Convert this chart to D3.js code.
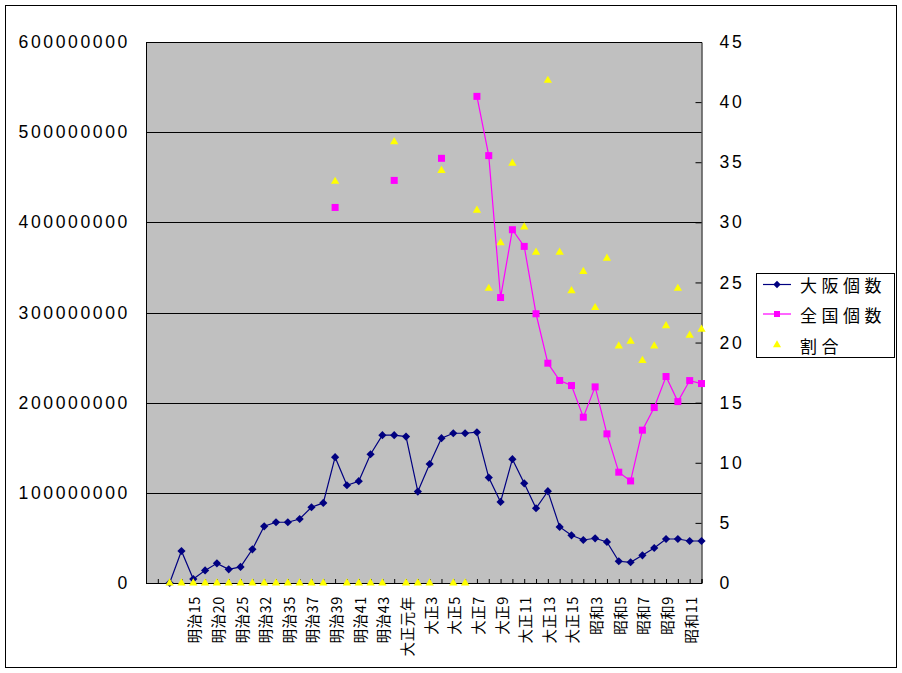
<!DOCTYPE html>
<html><head><meta charset="utf-8">
<script src="https://cdn.jsdelivr.net/npm/d3@7"></script>
<style>body{margin:0;background:#fff}svg{display:block}</style>
</head><body><svg id="c" width="902" height="673"></svg>
<script>
const categories = ["明治10","明治12","明治13","明治14","明治15","明治18","明治20","明治23","明治25","明治30","明治32","明治33","明治35","明治36","明治37","明治38","明治39","明治40","明治41","明治42","明治43","明治44","大正元年","大正2","大正3","大正4","大正5","大正6","大正7","大正8","大正9","大正10","大正11","大正12","大正13","大正14","大正15","昭和2","昭和3","昭和4","昭和5","昭和6","昭和7","昭和8","昭和9","昭和10","昭和11","昭和12"];
const tickLabels = ["明治15","明治20","明治25","明治32","明治35","明治37","明治39","明治41","明治43","大正元年","大正3","大正5","大正7","大正9","大正11","大正13","大正15","昭和3","昭和5","昭和7","昭和9","昭和11"];
const osaka = [null,null,0,35500000,4400000,14000000,21800000,15200000,17800000,37400000,62900000,67400000,67400000,71000000,84000000,88800000,139500000,108400000,112900000,142800000,163900000,163900000,162400000,101400000,132000000,160600000,166100000,166100000,167200000,116900000,89900000,137300000,110600000,82900000,101800000,62200000,52900000,47700000,49600000,45500000,24100000,23000000,30700000,38800000,48800000,48800000,46600000,46600000];
const zenkoku = [null,null,null,null,null,null,null,null,null,null,null,null,null,null,null,null,416500000,null,null,null,null,446500000,null,null,null,471000000,null,null,539700000,474000000,316600000,391800000,373300000,298600000,243800000,224600000,219000000,183900000,217500000,165400000,122900000,113200000,169500000,194600000,229000000,201200000,224500000,221200000];
const ratio = [null,null,0,0,0,0,0,0,0,0,0,0,0,0,0,0,33.4,0,0,0,0,36.7,0,0,0,34.3,0,0,31.0,24.5,28.3,34.9,29.6,27.5,41.8,27.5,24.3,25.9,22.9,27.0,19.7,20.1,18.5,19.7,21.4,24.5,20.6,21.1];
const leftTicks = [0,100000000,200000000,300000000,400000000,500000000,600000000];
const rightTicks = [0,5,10,15,20,25,30,35,40,45];
const seriesNames = ["大阪個数","全国個数","割合"];

const svg = d3.select("#c");
const L = 146, R = 701.5, T = 42, B = 583;
const x = d3.scalePoint().domain(categories).range([L, R]).padding(0);
const yL = d3.scaleLinear().domain([0, 600000000]).range([B, T]);
const yR = d3.scaleLinear().domain([0, 45]).range([B, T]);
const numFont = "'Liberation Sans', Arial, sans-serif";

// outer border
svg.append("rect").attr("x",5.5).attr("y",5.5).attr("width",891).attr("height",662).attr("fill","#fff").attr("stroke","#000");
// plot area
svg.append("rect").attr("x",L).attr("y",T).attr("width",R-L).attr("height",B-T).attr("fill","#c0c0c0");

// gridlines
svg.append("g").selectAll("line").data(leftTicks).join("line")
  .attr("x1",L).attr("x2",R).attr("y1",d=>Math.round(yL(d))+0.5).attr("y2",d=>Math.round(yL(d))+0.5)
  .attr("stroke","#000");

// left axis labels
const gl = svg.append("g").attr("transform",`translate(${L},0)`)
  .call(d3.axisLeft(yL).tickValues(leftTicks).tickSize(0).tickPadding(0).tickFormat(d3.format("d")));
gl.select(".domain").attr("stroke","#000");
gl.selectAll("text").attr("x",-16).attr("font-family",numFont)
  .attr("font-size",17.6).attr("letter-spacing","2.6px").attr("fill","#000");

// right axis
const gr = svg.append("g").attr("transform",`translate(${R},0)`)
  .call(d3.axisRight(yR).tickValues(rightTicks).tickSize(-6).tickPadding(0));
gr.select(".domain").attr("stroke","#000");
gr.selectAll(".tick line").attr("stroke","#000");
gr.selectAll("text").attr("x",18).attr("font-family",numFont)
  .attr("font-size",17.6).attr("letter-spacing","2.6px").attr("fill","#000");

// bottom axis
const gb = svg.append("g").attr("transform",`translate(0,${B})`)
  .call(d3.axisBottom(x).tickSize(-4).tickPadding(0).tickFormat(d => tickLabels.includes(d) ? d : ""));
gb.select(".domain").attr("stroke","#000");
gb.selectAll(".tick line").attr("stroke","#000");
gb.selectAll("text")
  .attr("transform","rotate(-90)")
  .attr("x",-13).attr("y",0).attr("dy",null)
  .attr("text-anchor","end").attr("dominant-baseline","central")
  .attr("font-family","'Noto Sans CJK JP', sans-serif").attr("font-size",14.5)
  .attr("letter-spacing","0.6px").attr("fill","#000");

// series
const lineL = d3.line().defined(d=>d.v!=null).x(d=>x(d.c)).y(d=>yL(d.v));
const osakaD = categories.map((c,i)=>({c, v: osaka[i]}));
const zenD = categories.map((c,i)=>({c, v: zenkoku[i]}));
const ratD = categories.map((c,i)=>({c, v: ratio[i]}));

svg.append("path").datum(osakaD).attr("d",lineL).attr("fill","none").attr("stroke","#000080").attr("stroke-width",1.2);
svg.append("g").selectAll("rect").data(osakaD.filter(d=>d.v!=null)).join("rect")
  .attr("x",-2.9).attr("y",-2.9).attr("width",5.8).attr("height",5.8)
  .attr("transform",d=>`translate(${x(d.c)},${yL(d.v)}) rotate(45)`)
  .attr("fill","#000080");

svg.append("path").datum(zenD).attr("d",lineL).attr("fill","none").attr("stroke","#ff00ff").attr("stroke-width",1.2);
svg.append("g").selectAll("rect").data(zenD.filter(d=>d.v!=null)).join("rect")
  .attr("x",d=>x(d.c)-3.5).attr("y",d=>yL(d.v)-3.5).attr("width",7).attr("height",7).attr("fill","#ff00ff");

svg.append("g").selectAll("path").data(ratD.filter(d=>d.v!=null)).join("path")
  .attr("d",d3.symbol(d3.symbolTriangle,30)).attr("transform",d=>`translate(${x(d.c)},${yR(d.v)})`)
  .attr("fill","#ffff00");

// legend
const lg = svg.append("g");
lg.append("rect").attr("x",756.5).attr("y",273.5).attr("width",138).attr("height",84).attr("fill","#fff").attr("stroke","#000");
const rowsY = [284.5, 314, 345];
seriesNames.forEach((n,i)=>{
  const yy = rowsY[i];
  if (i<2) lg.append("line").attr("x1",763).attr("x2",791).attr("y1",yy).attr("y2",yy)
      .attr("stroke", i===0?"#000080":"#ff00ff").attr("stroke-width",1.2);
  if (i===0) lg.append("rect").attr("x",-2.6).attr("y",-2.6).attr("width",5.2).attr("height",5.2)
      .attr("transform",`translate(777,${yy}) rotate(45)`).attr("fill","#000080");
  if (i===1) lg.append("rect").attr("x",774).attr("y",yy-3).attr("width",6).attr("height",6).attr("fill","#ff00ff");
  if (i===2) lg.append("path").attr("d",d3.symbol(d3.symbolTriangle,28)).attr("transform",`translate(777,${yy})`).attr("fill","#ffff00");
  lg.append("text").attr("x",800).attr("y",yy).attr("dominant-baseline","central")
    .attr("font-family","'Noto Sans CJK JP', sans-serif").attr("font-size",17).attr("letter-spacing","4.5px")
    .attr("fill","#000").text(n);
});
</script></body></html>
